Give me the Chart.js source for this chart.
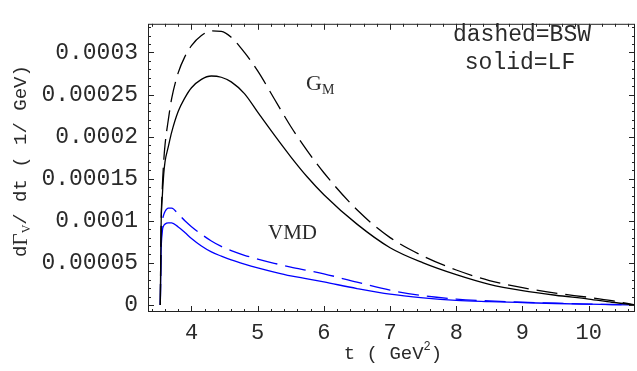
<!DOCTYPE html>
<html>
<head>
<meta charset="utf-8">
<script src="https://cdn.jsdelivr.net/npm/chart.js@4/dist/chart.umd.min.js"></script>
<style>
  html, body { margin: 0; padding: 0; background: #fff; }
  #wrap { width: 637px; height: 371px; }
</style>
</head>
<body>
<div id="wrap"><canvas id="rate-chart" width="637" height="371"></canvas></div>
<script>
// t in GeV^2
const tValues = [3.529, 3.54, 3.56, 3.58, 3.6, 3.65, 3.7, 3.8, 3.9, 4.0, 4.15, 4.3, 4.45, 4.6, 4.8,
    5.0, 5.25, 5.5, 5.75, 6.0, 6.5, 7.0, 7.5, 8.0, 8.5, 9.0, 9.5, 10.0, 10.35, 10.7];

// dGamma/dt in 1/GeV
const lfGM = [0, 0.9e-4, 1.3e-4, 1.55e-4, 1.7e-4, 1.88e-4, 2.05e-4, 2.3e-4, 2.46e-4, 2.58e-4,
    2.68e-4, 2.72e-4, 2.705e-4, 2.65e-4, 2.51e-4, 2.29e-4, 2.02e-4, 1.76e-4, 1.52e-4, 1.31e-4,
    0.96e-4, 0.68e-4, 0.5e-4, 0.36e-4, 0.245e-4, 0.17e-4, 0.115e-4, 0.07e-4, 0.032e-4, 0];
const bswGM = [0, 0.9e-4, 1.4e-4, 1.7e-4, 1.9e-4, 2.2e-4, 2.45e-4, 2.76e-4, 2.95e-4, 3.08e-4,
    3.2e-4, 3.255e-4, 3.25e-4, 3.18e-4, 3.0e-4, 2.78e-4, 2.45e-4, 2.12e-4, 1.83e-4, 1.57e-4,
    1.13e-4, 0.8e-4, 0.58e-4, 0.415e-4, 0.29e-4, 0.205e-4, 0.14e-4, 0.09e-4, 0.05e-4, 0];
const lfVMD = [0, 0.6e-4, 0.88e-4, 0.94e-4, 0.96e-4, 0.975e-4, 0.975e-4, 0.925e-4, 0.86e-4, 0.79e-4,
    0.7e-4, 0.63e-4, 0.58e-4, 0.535e-4, 0.485e-4, 0.44e-4, 0.39e-4, 0.345e-4, 0.31e-4, 0.273e-4,
    0.195e-4, 0.128e-4, 0.085e-4, 0.055e-4, 0.04e-4, 0.028e-4, 0.017e-4, 0.009e-4, 0.004e-4, 0];
const bswVMD = [0, 0.65e-4, 0.98e-4, 1.07e-4, 1.11e-4, 1.15e-4, 1.15e-4, 1.08e-4, 1.0e-4, 0.93e-4,
    0.84e-4, 0.76e-4, 0.695e-4, 0.645e-4, 0.59e-4, 0.545e-4, 0.495e-4, 0.45e-4, 0.41e-4, 0.37e-4,
    0.27e-4, 0.175e-4, 0.11e-4, 0.07e-4, 0.047e-4, 0.033e-4, 0.02e-4, 0.01e-4, 0.005e-4, 0];

const xTicks = [4, 5, 6, 7, 8, 9, 10];
const yTicks = [0, 0.00005, 0.0001, 0.00015, 0.0002, 0.00025, 0.0003];
const yTickLabels = ["0", "0.00005", "0.0001", "0.00015", "0.0002", "0.00025", "0.0003"];

const MONO = "'Liberation Mono', 'DejaVu Sans Mono', monospace";
const SERIF = "'Liberation Serif', 'DejaVu Serif', serif";
const TEXT = "#2a2a2a";

function pts(ys) {
    return tValues.map((t, i) => ({ x: t, y: ys[i] }));
}

// frame with inward ticks on all four sides, plus the text labels
const framePlugin = {
    id: "frame",
    afterDraw(chart) {
        const ctx = chart.ctx;
        const a = chart.chartArea;
        const xs = chart.scales.x;
        const ys = chart.scales.y;
        ctx.save();
        ctx.strokeStyle = "#222";
        ctx.lineWidth = 1;
        ctx.strokeRect(a.left + 0.5, a.top + 0.5, a.right - a.left - 1, a.bottom - a.top - 1);

        ctx.beginPath();
        for (let i = 17; i <= 53; i++) {
            const v = i / 5;
            const px = Math.round(xs.getPixelForValue(v)) + 0.5;
            if (px < a.left || px > a.right) continue;
            const len = i % 5 === 0 ? 6 : 3;
            ctx.moveTo(px, a.bottom); ctx.lineTo(px, a.bottom - len);
            ctx.moveTo(px, a.top); ctx.lineTo(px, a.top + len);
        }
        for (let i = 0; i <= 33; i++) {
            const v = i * 0.00001;
            const py = Math.round(ys.getPixelForValue(v)) + 0.5;
            if (py < a.top || py > a.bottom) continue;
            const len = i % 5 === 0 ? 6 : 3;
            ctx.moveTo(a.left, py); ctx.lineTo(a.left + len, py);
            ctx.moveTo(a.right, py); ctx.lineTo(a.right - len, py);
        }
        ctx.stroke();

        ctx.fillStyle = TEXT;
        ctx.textBaseline = "middle";
        ctx.textAlign = "center";
        ctx.font = "23px " + MONO;
        ctx.fillText("dashed=BSW", 522, 35);
        ctx.fillText("solid=LF", 520, 63);

        ctx.textAlign = "left";
        ctx.font = "22px " + SERIF;
        ctx.fillText("G", 306, 84);
        ctx.font = "14px " + SERIF;
        ctx.fillText("M", 322, 90);
        ctx.font = "21px " + SERIF;
        ctx.fillText("VMD", 268, 233);

        // x title: t ( GeV^2)
        const xa = "t ( GeV", xb = "2", xc = ")";
        ctx.font = "19px " + MONO;
        const wa = ctx.measureText(xa).width, wc = ctx.measureText(xc).width;
        ctx.font = "12px " + MONO;
        const wb = ctx.measureText(xb).width;
        let x0 = 393 - (wa + wb + wc) / 2;
        ctx.font = "19px " + MONO;
        ctx.fillText(xa, x0, 354);
        ctx.font = "12px " + MONO;
        ctx.fillText(xb, x0 + wa, 347);
        ctx.font = "19px " + MONO;
        ctx.fillText(xc, x0 + wa + wb, 354);

        // y title: dGamma_V/ dt ( 1/ GeV), rotated
        ctx.translate(21, 161);
        ctx.rotate(-Math.PI / 2);
        const parts = [
            { s: "d", f: "19px " + MONO, dy: 0 },
            { s: "\u0393", f: "21px " + SERIF, dy: 0 },
            { s: "V", f: "12px " + SERIF, dy: 6 },
            { s: "/ dt ( 1/ GeV)", f: "19px " + MONO, dy: 0 }
        ];
        let total = 0;
        parts.forEach((p) => { ctx.font = p.f; p.w = ctx.measureText(p.s).width; total += p.w; });
        let cx = -total / 2;
        parts.forEach((p) => {
            ctx.font = p.f;
            ctx.fillText(p.s, cx, p.dy);
            cx += p.w;
        });
        ctx.restore();
    }
};

const ctx = document.getElementById("rate-chart").getContext("2d");
const myChart = new Chart(ctx, {
    type: "line",
    data: {
        datasets: [
            { label: "BSW G_M", data: pts(bswGM), borderColor: "#000", borderDash: [21, 8] },
            { label: "LF G_M", data: pts(lfGM), borderColor: "#000" },
            { label: "BSW VMD", data: pts(bswVMD), borderColor: "#0000ff", borderDash: [21, 8] },
            { label: "LF VMD", data: pts(lfVMD), borderColor: "#0000ff" }
        ]
    },
    options: {
        responsive: false,
        animation: false,
        layout: { padding: { left: 0, right: 2, top: 5, bottom: 0 } },
        elements: {
            line: { borderWidth: 1.3, cubicInterpolationMode: "monotone", fill: false },
            point: { radius: 0 }
        },
        scales: {
            x: {
                type: "linear",
                min: 3.343,
                max: 10.7,
                afterFit: (s) => { s.height = 59; },
                afterBuildTicks: (s) => { s.ticks = xTicks.map((v) => ({ value: v })); },
                grid: { display: false, drawTicks: false },
                border: { display: false },
                ticks: {
                    padding: 8,
                    color: TEXT,
                    font: { family: MONO, size: 22 },
                    callback: (v) => String(v)
                }
            },
            y: {
                type: "linear",
                min: -0.0000084,
                max: 0.000334,
                afterFit: (s) => { s.width = 148; },
                afterBuildTicks: (s) => { s.ticks = yTicks.map((v) => ({ value: v })); },
                grid: { display: false, drawTicks: false },
                border: { display: false },
                ticks: {
                    padding: 10,
                    color: TEXT,
                    font: { family: MONO, size: 23 },
                    callback: (v) => {
                        const i = yTicks.findIndex((t) => Math.abs(t - v) < 1e-9);
                        return i >= 0 ? yTickLabels[i] : "";
                    }
                }
            }
        },
        plugins: {
            legend: { display: false },
            tooltip: { enabled: false }
        }
    },
    plugins: [framePlugin]
});
</script>
</body>
</html>
